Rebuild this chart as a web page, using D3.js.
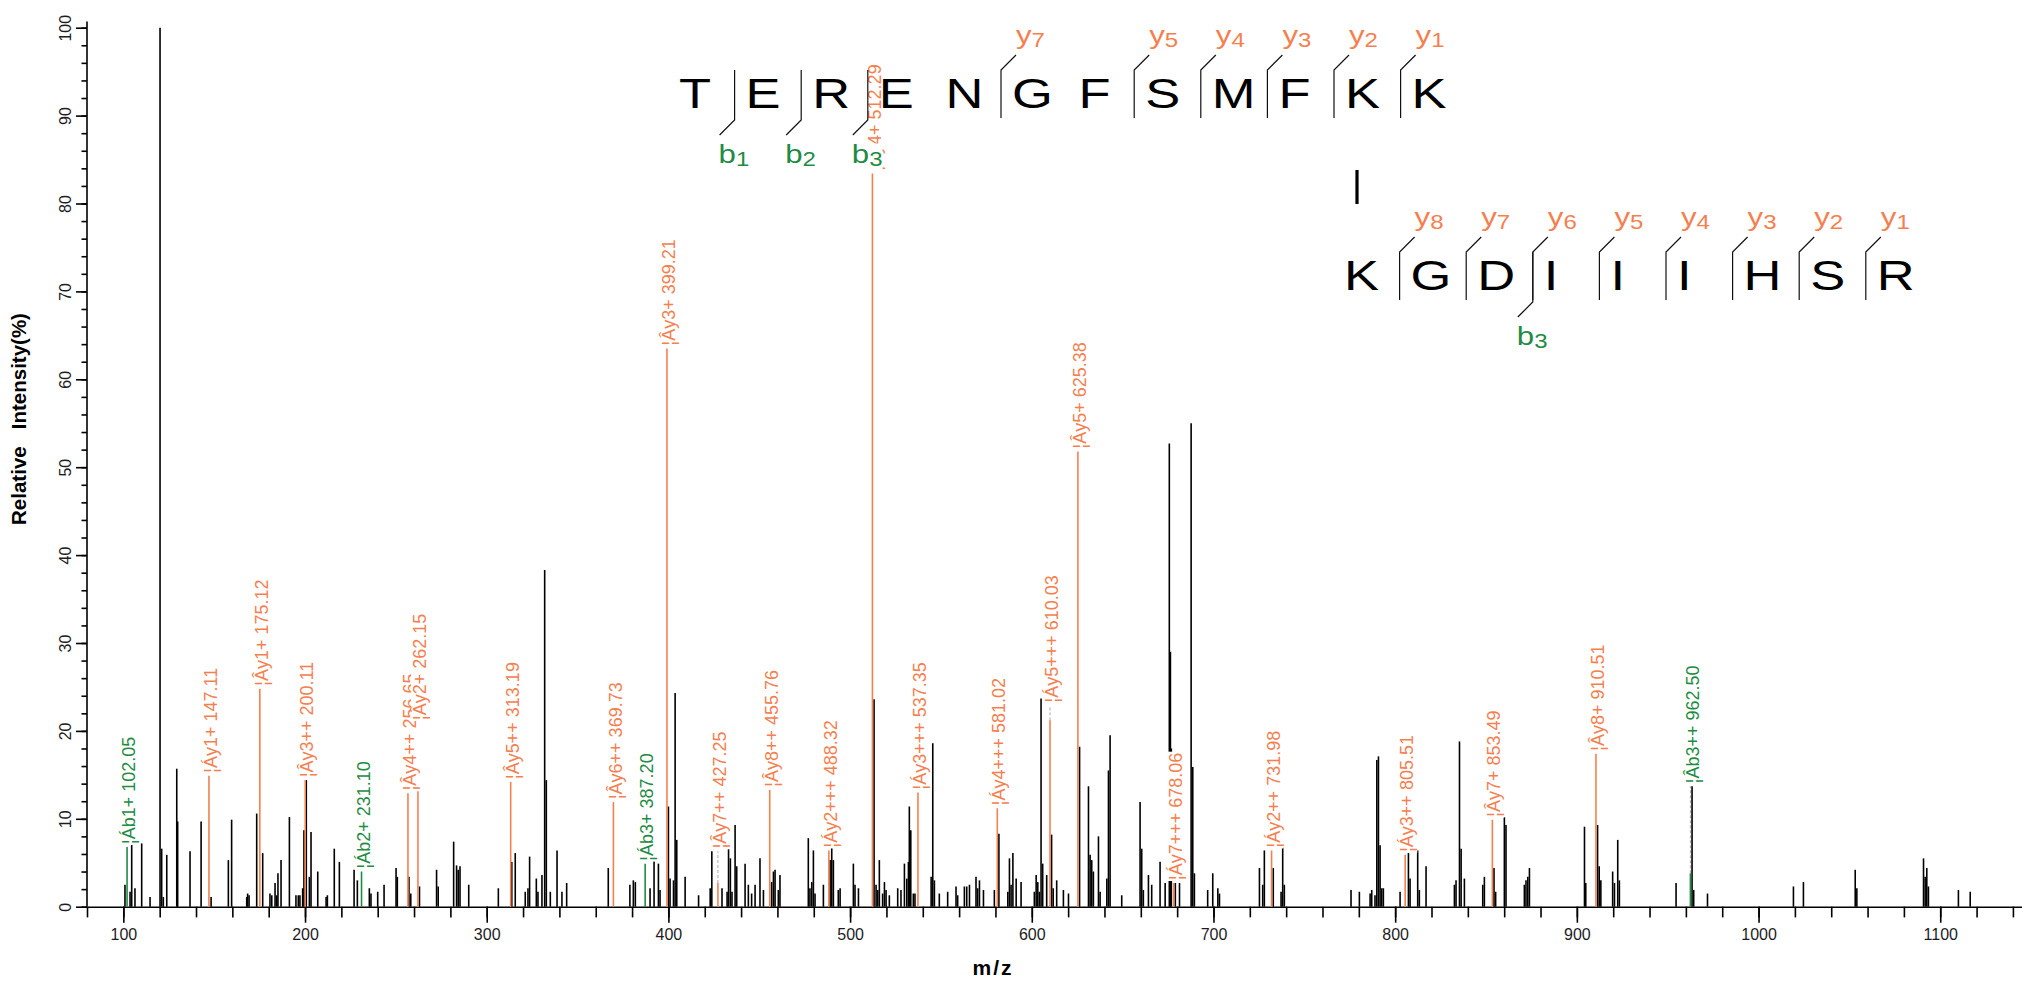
<!DOCTYPE html>
<html>
<head>
<meta charset="utf-8">
<script src="https://cdn.jsdelivr.net/npm/d3@7"></script>
<style>
  body { margin: 0; background: #fff; }
  svg { display: block; font-family: "Liberation Sans", Arial, sans-serif; }
</style>
</head>
<body>
<div id="chart"></div>
<script>
// unassigned peaks (m/z, relative intensity %)
const peakMz = [
  100.9, 103.7, 104.6, 106.4, 110.1, 114.7, 120.2, 121.1, 122.0, 123.9, 129.4, 129.9, 136.7, 142.8, 148.3,
  157.8, 159.6, 167.9, 168.4, 169.2, 173.4, 176.7, 180.7, 181.7, 183.5, 184.4, 185.1, 186.8, 191.4, 195.0,
  196.3, 197.2, 198.7, 199.4, 200.7, 202.4, 203.3, 207.0, 211.6, 212.3, 216.1, 218.9, 227.0, 228.8, 235.4,
  236.3, 240.0, 243.5, 250.1, 250.8, 257.2, 258.2, 263.0, 272.4, 273.3, 281.8, 283.4, 284.3, 285.3, 290.1,
  306.4, 313.8, 315.7, 321.2, 322.7, 323.6, 327.3, 328.2, 330.4, 331.9, 332.8, 335.0, 338.7, 341.4, 344.0,
  366.9, 378.8, 380.7, 381.8, 389.9, 392.1, 394.5, 395.4, 400.0, 400.9, 402.8, 403.7, 404.6, 409.2, 416.6,
  423.0, 423.9, 429.5, 432.3, 433.1, 434.1, 435.0, 436.7, 437.6, 442.2, 444.0, 445.8, 447.7, 450.4, 452.3,
  456.8, 457.8, 458.7, 460.5, 461.4, 477.0, 477.9, 478.9, 479.8, 480.7, 485.3, 489.0, 489.9, 490.8, 493.5,
  494.5, 501.8, 502.7, 504.6, 513.2, 514.3, 515.2, 516.1, 517.9, 518.9, 519.8, 521.6, 526.2, 528.0, 529.9,
  531.2, 532.1, 532.6, 533.4, 534.8, 535.7, 544.6, 545.5, 546.4, 549.1, 553.7, 558.3, 559.2, 562.9, 564.2,
  565.7, 569.3, 570.2, 571.2, 573.4, 579.4, 581.9, 586.8, 587.7, 588.6, 589.6, 591.4, 594.1, 601.4, 602.4,
  603.3, 604.2, 605.1, 606.0, 608.2, 610.9, 611.8, 613.7, 617.4, 620.2, 626.3, 631.2, 632.1, 633.0, 633.9,
  636.7, 637.6, 641.3, 642.2, 643.1, 649.5, 659.6, 660.5, 661.4, 664.2, 666.0, 670.6, 673.4, 675.7, 676.3,
  676.8, 679.0, 681.3, 687.7, 688.6, 689.5, 696.8, 699.6, 702.4, 703.3, 725.3, 727.1, 728.0, 732.9, 737.2,
  738.1, 739.0, 775.7, 780.3, 786.2, 787.1, 788.9, 789.9, 790.8, 791.7, 792.6, 793.5, 802.7, 807.3, 808.2,
  812.4, 813.3, 817.0, 832.6, 833.5, 835.4, 836.3, 838.1, 848.2, 849.1, 854.4, 855.3, 860.1, 861.0, 871.1,
  872.0, 873.0, 873.9, 904.2, 904.9, 911.4, 912.3, 913.2, 919.7, 920.7, 922.5, 923.4, 954.6, 963.4, 964.3,
  971.9, 1019.2, 1024.7, 1053.2, 1054.1, 1090.8, 1091.7, 1092.6, 1093.5, 1110.0, 1116.5
];
const peakInt = [
  2.5, 1.7, 7.2, 2.1, 7.2, 1.1, 100, 6.6, 1.1, 5.9, 15.7, 9.7, 6.3, 9.7, 1.1,
  5.3, 9.9, 1.1, 1.5, 1.3, 10.6, 6.1, 1.5, 1.3, 2.7, 1.3, 3.8, 5.3, 10.2, 1.3,
  1.3, 1.3, 2.1, 8.7, 14.4, 3.4, 8.5, 4.0, 1.1, 1.3, 6.6, 5.1, 4.2, 3.0, 2.1,
  1.5, 1.7, 2.5, 4.4, 3.4, 3.4, 1.5, 2.3, 4.2, 2.3, 7.4, 4.7, 4.2, 4.6, 2.5,
  2.1, 5.1, 6.1, 1.7, 2.1, 5.7, 3.2, 1.7, 3.6, 38.3, 14.4, 1.7, 6.4, 1.7, 2.7,
  4.4, 2.5, 3.0, 2.8, 2.1, 5.3, 4.9, 1.9, 11.4, 3.2, 3.0, 24.3, 7.6, 3.4, 1.3,
  2.1, 6.3, 2.1, 1.7, 6.6, 5.5, 1.7, 9.3, 4.6, 4.9, 2.5, 1.5, 2.5, 5.5, 1.9,
  2.8, 4.0, 4.2, 1.9, 3.6, 7.8, 2.1, 2.8, 6.4, 1.5, 2.5, 5.3, 6.8, 5.3, 1.9,
  2.1, 4.9, 2.5, 2.1, 23.6, 2.5, 1.9, 5.3, 1.5, 2.8, 1.9, 1.3, 2.1, 1.9, 4.9,
  3.2, 5.1, 11.4, 8.7, 1.5, 1.5, 3.4, 18.6, 3.0, 1.5, 1.7, 2.3, 1.3, 2.3, 2.3,
  2.5, 3.4, 2.1, 3.0, 1.9, 1.9, 8.3, 1.7, 5.5, 2.5, 6.1, 3.2, 2.8, 1.7, 3.6,
  2.8, 1.7, 23.7, 4.9, 3.6, 8.2, 2.1, 3.0, 1.9, 1.5, 18.2, 13.7, 5.9, 5.3, 4.0,
  8.0, 1.7, 3.2, 15.5, 19.5, 1.3, 11.9, 6.6, 1.9, 3.6, 2.5, 5.1, 2.7, 52.7, 29.0,
  18.0, 2.7, 2.7, 55.0, 15.9, 3.8, 1.9, 3.8, 2.1, 1.5, 4.4, 2.5, 6.4, 4.4, 1.7,
  6.8, 2.5, 1.9, 1.7, 1.5, 1.9, 1.3, 16.7, 17.1, 7.0, 2.1, 2.1, 1.7, 6.1, 3.2,
  6.4, 1.9, 4.6, 2.5, 3.0, 18.8, 6.6, 3.2, 2.5, 3.4, 4.4, 1.7, 10.2, 9.3, 2.5,
  3.0, 3.4, 4.4, 9.1, 2.7, 9.3, 4.6, 3.0, 4.0, 2.7, 7.6, 3.0, 2.7, 13.7, 1.9,
  1.5, 2.3, 2.8, 4.2, 2.1, 5.5, 3.4, 4.4, 2.3, 1.9, 1.7
];

// matched fragment ions
const ionMz = [102.05, 147.11, 175.12, 200.11, 231.10, 256.65, 262.15, 313.19, 369.73, 387.20, 399.21, 427.25,
  455.76, 488.32, 512.29, 537.35, 581.02, 610.03, 625.38, 678.06, 731.98, 805.51, 853.49, 910.51, 962.50];
const ionInt = [6.8, 14.9, 24.8, 14.4, 4.0, 12.9, 20.9, 14.2, 11.9, 4.9, 63.5, 2.7,
  13.3, 6.4, 83.4, 13.0, 11.2, 21.2, 51.8, 2.7, 6.4, 5.9, 9.9, 17.4, 3.8];
const ionTop = [null, null, null, null, null, null, null, null, null, null, null, 6.3,
  null, null, null, null, null, 22.9, null, null, null, null, null, null, 13.7];
const ionLabel = ["¦Áb1+ 102.05", "¦Áy1+ 147.11", "¦Ây1+ 175.12", "¦Ây3++ 200.11", "¦Áb2+ 231.10",
  "¦Ây4++ 256.65", "¦Ây2+ 262.15", "¦Ây5++ 313.19", "¦Ây6++ 369.73", "¦Áb3+ 387.20", "¦Ây3+ 399.21",
  "¦Ây7++ 427.25", "¦Ây8++ 455.76", "¦Áy2+++ 488.32", "¦Ây4+ 512.29", "¦Áy3+++ 537.35",
  "¦Áy4+++ 581.02", "¦Áy5+++ 610.03", "¦Ây5+ 625.38", "¦Áy7+++ 678.06", "¦Áy2++ 731.98",
  "¦Áy3++ 805.51", "¦Ây7+ 853.49", "¦Ây8+ 910.51", "¦Âb3++ 962.50"];
const ionKind = ["b", "y", "y", "y", "b", "y", "y", "y", "y", "b", "y", "y",
  "y", "y", "y", "y", "y", "y", "y", "y", "y", "y", "y", "y", "b"];

// peptide annotation
const alphaSeq = ["T", "E", "R", "E", "N", "G", "F", "S", "M", "F", "K", "K"];
const betaSeq = ["K", "G", "D", "I", "I", "I", "H", "S", "R"];
const alphaYIons = [7, 5, 4, 3, 2, 1];
const alphaBIons = [1, 2, 3];
const betaYIons = [8, 7, 6, 5, 4, 3, 2, 1];
const betaBIons = [3];

// axes
const xTicks = [100, 200, 300, 400, 500, 600, 700, 800, 900, 1000, 1100];
const yTicks = [0, 10, 20, 30, 40, 50, 60, 70, 80, 90, 100];

const W = 2022, H = 981;
const orange = "#f5804f", green = "#1f8c45";

const svg = d3.select("#chart").append("svg")
  .attr("width", W)
  .attr("height", H);

svg.append("rect").attr("width", W).attr("height", H).attr("fill", "#fff");

const x = d3.scaleLinear().domain([80, 1145]).range([87, 2022]);
const y = d3.scaleLinear().domain([0, 100]).range([906.7, 27.7]);

// y axis
const yMinor = svg.append("g")
  .attr("transform", "translate(87,0)")
  .call(d3.axisLeft(y).tickValues(d3.range(0, 101, 2)).tickSize(5.5).tickFormat("").tickSizeOuter(0));
yMinor.select(".domain").remove();

const yAxis = svg.append("g")
  .attr("transform", "translate(87,0)")
  .call(d3.axisLeft(y).tickValues(yTicks).tickSize(11).tickSizeOuter(0));
yAxis.select(".domain").attr("d", `M0,${y(0)}V${y(100.7)}`);
yAxis.attr("font-size", 16).attr("font-family", null);
yAxis.selectAll(".tick text")
  .attr("transform", "rotate(-90)")
  .attr("x", 0)
  .attr("y", -15.6)
  .attr("dy", 0)
  .attr("text-anchor", "middle")
  .attr("fill", "#1c1c24");

// x axis
const xMinor = svg.append("g")
  .attr("transform", `translate(0,${y(0)})`)
  .call(d3.axisBottom(x).tickValues(d3.range(80, 1145, 20)).tickSize(10.7).tickFormat("").tickSizeOuter(0));
xMinor.select(".domain").remove();

const xAxis = svg.append("g")
  .attr("transform", `translate(0,${y(0)})`)
  .call(d3.axisBottom(x).tickValues(xTicks).tickFormat(d3.format("d")).tickSize(16).tickSizeOuter(0));
xAxis.attr("font-size", 16).attr("font-family", null);
xAxis.selectAll(".tick text")
  .attr("y", 33.3)
  .attr("dy", 0)
  .attr("fill", "#1c1c24");

svg.selectAll(".domain, .tick line").attr("stroke", "#000").attr("stroke-width", 1.6);

// axis titles
svg.append("text")
  .attr("transform", "translate(26,419) rotate(-90)")
  .attr("text-anchor", "middle")
  .attr("font-weight", "bold")
  .attr("font-size", 20.5)
  .attr("xml:space", "preserve")
  .style("white-space", "pre")
  .text("Relative   Intensity(%)");

svg.append("text")
  .attr("x", 993)
  .attr("y", 975)
  .attr("text-anchor", "middle")
  .attr("font-weight", "bold")
  .attr("font-size", 21)
  .attr("letter-spacing", 2)
  .text("m/z");

// raw peaks
const peaks = d3.zip(peakMz, peakInt);
svg.append("g").selectAll("line")
  .data(peaks)
  .join("line")
  .attr("x1", d => x(d[0]))
  .attr("x2", d => x(d[0]))
  .attr("y1", y(0))
  .attr("y2", d => y(d[1]))
  .attr("stroke", "#000")
  .attr("stroke-width", 1.6);

// matched ions
const ions = ionMz.map((m, i) => ({
  mz: m,
  inten: ionInt[i],
  top: ionTop[i] == null ? ionInt[i] : ionTop[i],
  label: ionLabel[i],
  color: ionKind[i] === "b" ? green : orange
}));

svg.append("g").selectAll("line")
  .data(ions.filter(d => d.top > d.inten))
  .join("line")
  .attr("x1", d => x(d.mz))
  .attr("x2", d => x(d.mz))
  .attr("y1", d => y(d.inten))
  .attr("y2", d => y(d.top))
  .attr("stroke", "#aaa")
  .attr("stroke-width", 1)
  .attr("stroke-dasharray", "3,2");

svg.append("g").selectAll("line")
  .data(ions)
  .join("line")
  .attr("x1", d => x(d.mz))
  .attr("x2", d => x(d.mz))
  .attr("y1", y(0))
  .attr("y2", d => y(d.inten))
  .attr("stroke", d => d.color)
  .attr("stroke-width", 1.6);

const labels = svg.append("g");
ions.forEach(d => {
  const g = labels.append("g")
    .attr("transform", `translate(${x(d.mz)},${y(d.top) - 3}) rotate(-90)`);
  const t = g.append("text")
    .attr("dy", "0.45em")
    .attr("font-size", 18)
    .attr("fill", d.color)
    .text(d.label);
  const bb = t.node().getBBox();
  g.insert("rect", "text")
    .attr("x", bb.x - 1)
    .attr("y", bb.y + 1)
    .attr("width", bb.width + 2)
    .attr("height", bb.height - 1)
    .attr("fill", "#fff");
});

// peptide sequences
const seq = svg.append("g");
const step = 66.6;
const alphaX = d3.scaleLinear().domain([0, 1]).range([679, 679 + step]);
const betaX = d3.scaleLinear().domain([0, 1]).range([1344, 1344 + step]);

function ionTag(px, py, letter, n, color) {
  const g = seq.append("g").attr("transform", `translate(${px},${py}) scale(1.2,1)`);
  const t = g.append("text").attr("fill", color);
  t.append("tspan").attr("font-size", 26).text(letter);
  t.append("tspan").attr("font-size", 20).attr("dy", 3).text(n);
  const bb = t.node().getBBox();
  g.insert("rect", "text")
    .attr("x", bb.x).attr("y", bb.y + 4.5)
    .attr("width", bb.width).attr("height", bb.height - 4.5)
    .attr("fill", "#fff");
}

function drawPeptide(letters, px, base, yIons, bIons) {
  letters.forEach((c, i) => {
    seq.append("text")
      .attr("transform", `translate(${px(i)},${base}) scale(1.25,1)`)
      .attr("font-size", 42)
      .attr("fill", "#000")
      .text(c);
  });
  yIons.forEach(n => {
    const bx = px(letters.length - n) - 11;
    seq.append("path")
      .attr("d", `M${bx},${base + 10}V${base - 38}l15,-15`)
      .attr("fill", "none").attr("stroke", "#111").attr("stroke-width", 1.2);
    ionTag(bx + 15, base - 64.5, "y", n, orange);
  });
  bIons.forEach(n => {
    const bx = px(n) - 11;
    seq.append("path")
      .attr("d", `M${bx},${base - 38}V${base + 12}l-15,15`)
      .attr("fill", "none").attr("stroke", "#111").attr("stroke-width", 1.2);
    ionTag(bx - 16, base + 54.5, "b", n, green);
  });
}

drawPeptide(alphaSeq, alphaX, 108, alphaYIons, alphaBIons);
drawPeptide(betaSeq, betaX, 290, betaYIons, betaBIons);

// cross-link bar
seq.append("line")
  .attr("x1", alphaX(10) + 12).attr("x2", alphaX(10) + 12)
  .attr("y1", 170).attr("y2", 204)
  .attr("stroke", "#000").attr("stroke-width", 3.2);
</script>
</body>
</html>
